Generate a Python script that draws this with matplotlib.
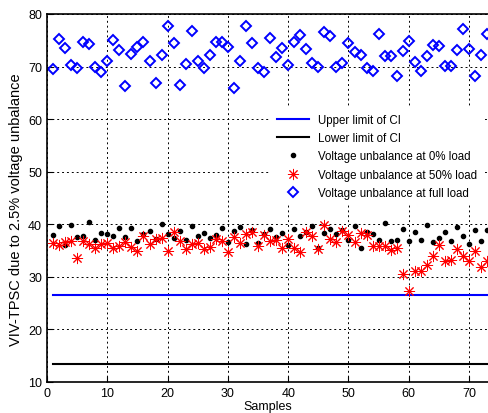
import matplotlib
matplotlib.use('Agg')
import matplotlib.pyplot as plt

plt.rcParams['font.family'] = ['Liberation Sans', 'DejaVu Sans']

samples = list(range(1, 74))

load_0 = [38.0, 39.7, 36.1, 39.9, 37.5, 37.7, 40.4, 37.1, 38.4, 38.2,
          37.7, 39.3, 37.5, 39.3, 36.8, 38.2, 38.8, 37.2, 40.0, 38.2,
          37.4, 38.8, 37.0, 39.6, 37.8, 38.4, 37.3, 37.9, 39.2, 36.6,
          38.7, 39.4, 36.3, 38.9, 36.4, 38.1, 39.1, 37.6, 38.3, 36.0,
          39.1, 37.8, 38.5, 39.7, 35.5, 38.3, 39.1, 38.1, 38.9, 37.0,
          39.6, 35.4, 38.5, 38.2, 37.0, 40.2, 36.8, 37.1, 39.1, 36.8,
          38.6, 37.0, 39.9, 36.7, 37.4, 38.5, 36.8, 39.5, 37.7, 36.3,
          38.9, 36.8, 39.0]

load_50 = [36.4, 36.0, 36.6, 36.9, 33.6, 36.9, 36.3, 35.4, 36.3, 36.4,
           35.5, 35.8, 36.7, 35.6, 35.0, 37.7, 36.2, 37.2, 37.4, 34.9,
           38.5, 36.8, 35.2, 36.3, 36.5, 35.3, 35.6, 37.2, 36.8, 34.8,
           37.5, 36.5, 38.1, 38.5, 35.8, 38.0, 36.9, 37.1, 35.5, 37.2,
           35.5, 34.8, 38.5, 37.7, 35.3, 39.9, 37.2, 36.7, 38.7, 37.9,
           36.7, 38.4, 38.0, 35.8, 35.8, 35.8, 35.1, 35.5, 30.5, 27.4,
           31.2, 31.1, 32.3, 33.9, 36.1, 33.1, 33.2, 35.3, 33.9, 33.0,
           35.0, 31.9, 33.0]

load_full = [69.5, 75.2, 73.5, 70.2, 69.7, 74.7, 74.2, 70.0, 68.9, 71.1,
             75.0, 73.1, 66.3, 72.3, 73.8, 74.6, 71.0, 66.9, 72.2, 77.7,
             74.4, 66.5, 70.5, 76.8, 71.0, 69.7, 72.1, 74.6, 74.6, 73.7,
             65.9, 71.0, 77.7, 74.5, 69.7, 69.0, 75.4, 71.9, 73.6, 70.2,
             74.7, 76.0, 73.3, 70.7, 69.9, 76.5, 75.9, 69.9, 70.6, 74.4,
             72.8, 72.1, 69.7, 69.1, 76.1, 72.0, 72.0, 68.2, 73.0, 74.8,
             70.8, 69.2, 72.0, 74.0, 73.9, 70.1, 70.1, 73.2, 77.2, 73.3,
             68.2, 72.2, 76.2]

upper_ci = 26.6
lower_ci = 13.4

fig = plt.figure(figsize=(4.89, 4.14), dpi=100)
ax = fig.add_axes([0.0961, 0.0749, 0.9039, 0.889])

n = len(samples)
ax.plot(samples, [upper_ci] * n, color='blue', lw=1.5, label='Upper limit of CI')
ax.plot(samples, [lower_ci] * n, color='black', lw=1.5, label='Lower limit of CI')
ax.plot(samples, load_0, 'o', color='black', ms=3, ls='none',
        label='Voltage unbalance at 0% load')
ax.plot(samples, load_50, marker=(8, 2, 0), color='red', ms=8, mew=0.7, ls='none',
        label='Voltage unbalance at 50% load')
ax.plot(samples, load_full, 'D', color='blue', ms=4.8, mew=1.4, mfc='none', ls='none',
        label='Voltage unbalance at full load')

ax.set_xlim(0, 73.3)
ax.set_ylim(10, 80)
ax.set_xticks(range(0, 71, 10))
ax.set_yticks(range(10, 81, 10))
ax.grid(True, color='black', linestyle=(0, (2, 3)), linewidth=0.7)
ax.tick_params(direction='in', labelsize=9, length=4)
for s in ax.spines.values():
    s.set_linewidth(1.2)

ax.set_xlabel('Samples', fontsize=9, labelpad=1)
ax.set_ylabel('VIV-TPSC due to 2.5% voltage unbalance', fontsize=10.5)
ax.yaxis.set_label_coords(-0.054, 0.47)

leg = ax.legend(loc='upper right', bbox_to_anchor=(1.0, 0.76), fontsize=8.3,
                frameon=True, fancybox=False, edgecolor='none', framealpha=1,
                handlelength=2.8, labelspacing=0.55, borderpad=0.5)

fig.savefig('out.png', dpi=100)
